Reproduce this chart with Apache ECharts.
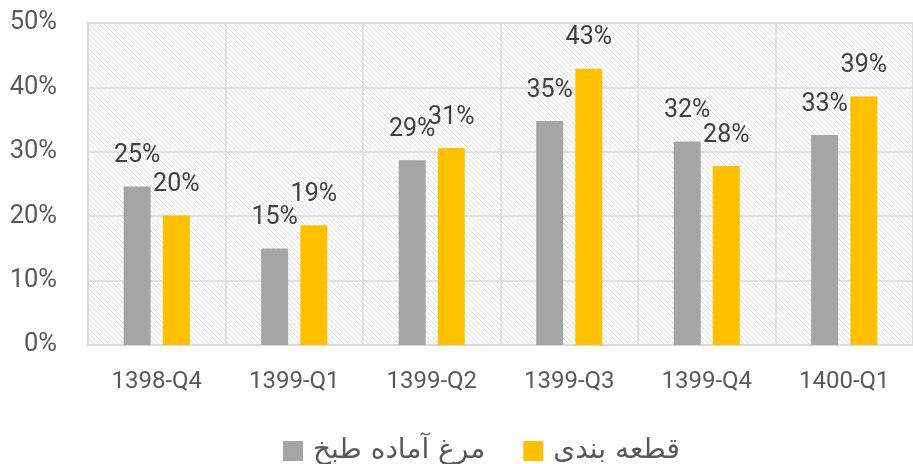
<!DOCTYPE html>
<html>
<head>
<meta charset="utf-8">
<script src="https://cdn.jsdelivr.net/npm/echarts@6/dist/echarts.min.js"></script>
<style>
  html, body { margin: 0; padding: 0; background: #fff; }
  #chart { width: 913px; height: 464px; }
</style>
</head>
<body>
<div id="chart"></div>
<script>
// quarters (Persian calendar)
var categories = ['1398-Q4', '1399-Q1', '1399-Q2', '1399-Q3', '1399-Q4', '1400-Q1'];
var seriesNames = ['مرغ آماده طبخ', 'قطعه بندی'];
// percent values
var readyChicken = [24.6, 15.0, 28.7, 34.8, 31.6, 32.6];
var cutPieces = [20.1, 18.6, 30.6, 42.9, 27.8, 38.6];
var yTicks = [0, 10, 20, 30, 40, 50];

// diagonal hatch for the plot background
function hatch() {
  var c = document.createElement('canvas');
  c.width = 5; c.height = 5;
  var ctx = c.getContext('2d');
  ctx.fillStyle = '#fff';
  ctx.fillRect(0, 0, 5, 5);
  ctx.strokeStyle = '#dedede';
  ctx.lineWidth = 1;
  ctx.beginPath();
  ctx.moveTo(-1, -1); ctx.lineTo(6, 6);
  ctx.moveTo(-1, 4); ctx.lineTo(1, 6);
  ctx.moveTo(4, -1); ctx.lineTo(6, 1);
  ctx.stroke();
  return c;
}

var myChart = echarts.init(document.getElementById('chart'));
var labelStyle = {
  show: true,
  position: 'top',
  distance: 18,
  fontFamily: 'Roboto',
  fontSize: 25,
  color: '#404040',
  formatter: function (p) { return Math.round(p.value) + '%'; }
};

myChart.setOption({
  animation: false,
  textStyle: { fontFamily: 'Roboto' },
  grid: {
    left: 88, top: 23, width: 834, height: 322,
    show: true,
    borderColor: '#d9d9d9',
    borderWidth: 1.5,
    backgroundColor: { image: hatch(), repeat: 'repeat' }
  },
  legend: {
    data: seriesNames,
    left: 278,
    top: 432,
    itemWidth: 20,
    itemHeight: 20,
    itemGap: 38,
    icon: 'rect',
    textStyle: { fontFamily: 'DejaVu Sans', fontSize: 28, color: '#595959', padding: [0, 0, 0, 5] }
  },
  xAxis: {
    type: 'category',
    data: categories,
    axisLine: { lineStyle: { color: '#d9d9d9', width: 1.5 } },
    axisTick: { show: false },
    splitLine: { show: true, lineStyle: { color: '#d9d9d9', width: 1.5 } },
    axisLabel: { fontSize: 24, color: '#595959', margin: 25 }
  },
  yAxis: {
    type: 'value',
    min: yTicks[0],
    max: yTicks[yTicks.length - 1],
    interval: 10,
    axisLine: { show: false },
    axisTick: { show: false },
    splitLine: { lineStyle: { color: '#d9d9d9', width: 1.5 } },
    axisLabel: { fontSize: 25.5, color: '#595959', margin: 31, formatter: '{value}%' }
  },
  series: [
    {
      name: seriesNames[0],
      type: 'bar',
      data: readyChicken,
      barWidth: 27,
      barGap: '45%',
      itemStyle: { color: '#A5A5A5' },
      label: labelStyle
    },
    {
      name: seriesNames[1],
      type: 'bar',
      data: cutPieces,
      barWidth: 27,
      barGap: '45%',
      itemStyle: { color: '#FFC000' },
      label: labelStyle
    }
  ]
});
</script>
</body>
</html>
